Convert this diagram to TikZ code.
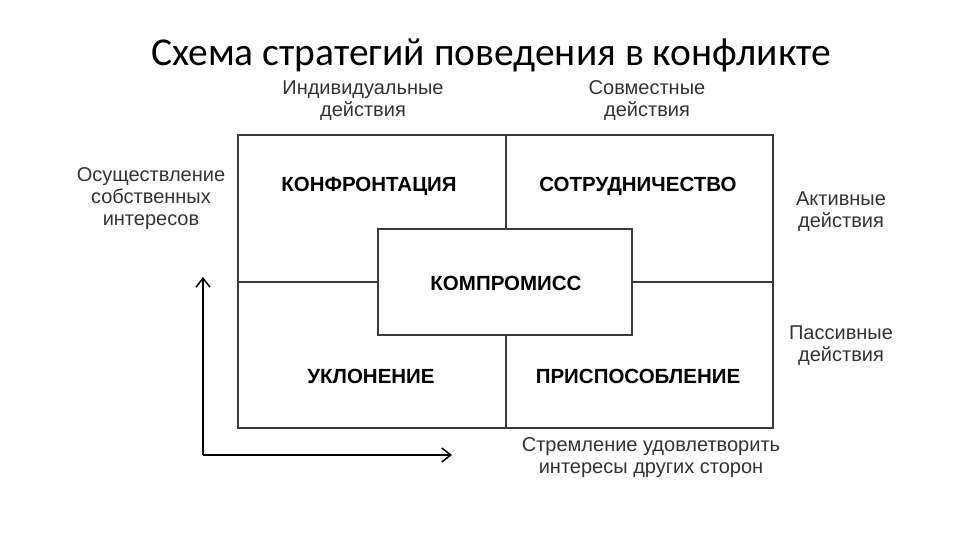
\documentclass[tikz,border=0pt]{standalone}
\usepackage{fontspec}
\setmainfont{Liberation Sans}
\newfontfamily\titlefont{Carlito}
\usetikzlibrary{arrows.meta}
\definecolor{linegray}{HTML}{3A3A3A}
\definecolor{textgray}{HTML}{333333}
\tikzset{
  boxline/.style={draw=linegray, line width=2pt},
  lbl/.style={align=center, text=textgray, font=\fontsize{20}{22}\selectfont, inner sep=0pt},
  strat/.style={font=\bfseries\fontsize{20.5}{22}\selectfont, text=black, inner sep=0pt},
  axis/.style={draw=black, line width=2pt, -{Straight Barb[length=9pt,width=14pt,line width=1.5pt]}}
}
\begin{document}
\begin{tikzpicture}[x=1pt,y=-1pt]
\useasboundingbox[fill=white] (0,0) rectangle (960,540);
\node[font=\titlefont\fontsize{39.5}{42}\selectfont, inner sep=0pt] (title) at (491,55) {Схема стратегий поведения в конфликте};

\node[boxline, minimum width=535pt, minimum height=293pt, inner sep=0pt] (frame) at (505.5,281.5) {};
\node[boxline, fill=white, minimum width=254pt, minimum height=106pt, inner sep=0pt] (comp) at (505,281.5) {};
\draw[boxline] (frame.north) -- (frame.north |- comp.north);
\draw[boxline] (frame.south) -- (frame.south |- comp.south);
\draw[boxline] (frame.west) -- (comp.west);
\draw[boxline] (comp.east) -- (frame.east);

\node[strat] (konf) at (369,186) {КОНФРОНТАЦИЯ};
\node[strat] (sotr) at (638,186) {СОТРУДНИЧЕСТВО};
\node[strat] (komp) at (506,283) {КОМПРОМИСС};
\node[strat] (uklo) at (371,376) {УКЛОНЕНИЕ};
\node[strat] (pris) at (638,376) {ПРИСПОСОБЛЕНИЕ};

\node[lbl] (indiv) at (363,101) {Индивидуальные\\действия};
\node[lbl] (sovm) at (647,101) {Совместные\\действия};
\node[lbl] (osush) at (151,199) {Осуществление\\собственных\\интересов};
\node[lbl] (aktiv) at (841,212) {Активные\\действия};
\node[lbl] (passiv) at (841,346) {Пассивные\\действия};
\node[lbl] (strem) at (651,458) {Стремление удовлетворить\\интересы других сторон};

\coordinate (origin) at (203,455);
\coordinate (yend) at (203,277);
\coordinate (xend) at (452,455);
\draw[axis] (origin) -- (yend);
\draw[axis] (origin) -- (xend);
\end{tikzpicture}
\end{document}
